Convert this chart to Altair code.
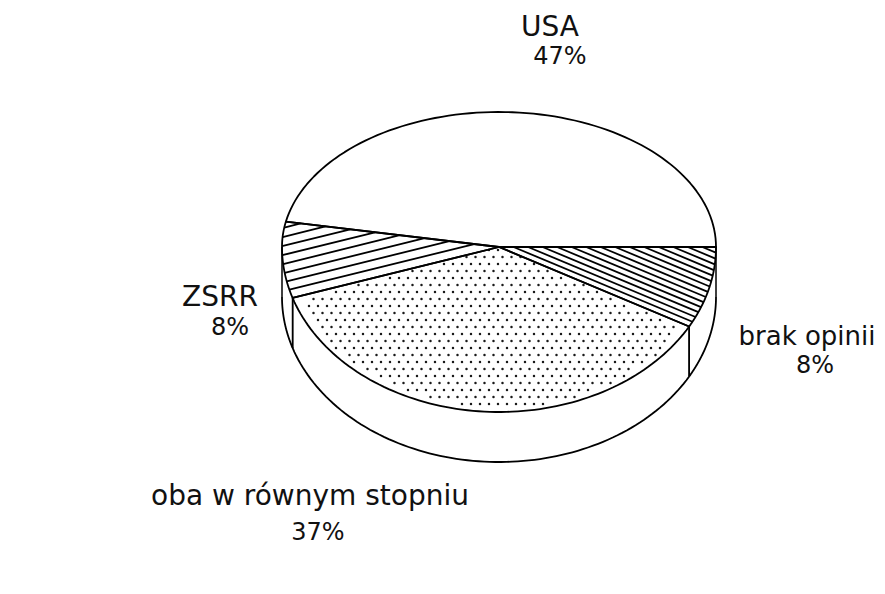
import altair as alt
import pandas as pd

# ---------------- data ----------------
categories = ["USA", "ZSRR", "oba w równym stopniu", "brak opinii"]
values = [47, 8, 37, 8]
percent_labels = [f"{v}%" for v in values]

# ---------------- layout / style (pixels) ----------------
W, H = 869, 578
CX, CY = 491, 239          # pie apex
A, BU, BD, DEPTH = 217, 135, 165, 50   # half-width, upper/lower half-heights, side depth
N = 90                     # arc resolution
HATCH_MAX = 45
NC, NR, DX, DY = 50, 25, 9, 7

styles = pd.DataFrame({
    "cat": categories,
    "fillstyle": ["none", "hatch", "dots", "hatch"],
    "base": ["", "end", "", "start"],
    "spacing": [0, 8.8, 0, 5.6],
})

label_pos = pd.DataFrame({
    "cat": categories,
    "x1": [542, 212, 302, 799], "y1": [28, 298, 497, 337],
    "x2": [552, 222, 310, 807], "y2": [56, 327, 532, 365],
    "fs1": [28, 28, 28, 26],
})

df = pd.DataFrame({"cat": categories, "value": values, "idx": list(range(len(categories)))})
df["steps"] = [list(range(N + 3))] * len(df)
df["hatch"] = [list(range(1, HATCH_MAX + 1))] * len(df)
df["grid"] = [list(range(NC * NR))] * len(df)

XS = alt.Scale(domain=[0, W], nice=False, zero=False)
YS = alt.Scale(domain=[0, H], nice=False, zero=False, reverse=True)
X = alt.X("px:Q", scale=XS, axis=None)
Y = alt.Y("py:Q", scale=YS, axis=None)


def ex(t):
    return f"({A}*cos(({t})*PI/180))"


def eyup(t):
    return f"((sin(({t})*PI/180) >= 0 ? {BU} : {BD})*sin(({t})*PI/180))"


base = (
    alt.Chart(df)
    .transform_lookup(lookup="cat", from_=alt.LookupData(styles, "cat", ["fillstyle", "base", "spacing"]))
    .transform_joinaggregate(total="sum(value)")
    .transform_window(cum="sum(value)", sort=[alt.SortField("idx")], frame=[None, 0])
    .transform_calculate(t0="(datum.cum - datum.value) / datum.total * 360")
    .transform_calculate(t1="datum.cum / datum.total * 360")
)

# top face slice outlines
outline = (
    base.transform_flatten(["steps"])
    .transform_calculate(j=f"min(max(datum.steps - 1, 0), {N})")
    .transform_calculate(tt=f"datum.t0 + (datum.t1 - datum.t0) * datum.j / {N}")
    .transform_calculate(isv=f"datum.steps == 0 || datum.steps == {N + 2}")
    .transform_calculate(px=f"datum.isv ? {CX} : {CX} + {ex('datum.tt')}")
    .transform_calculate(py=f"datum.isv ? {CY} : {CY} - {eyup('datum.tt')}")
    .mark_line(color="black", strokeWidth=1.8, strokeJoin="round")
    .encode(x=X, y=Y, detail="cat:N", order="steps:Q")
)

# side: lower rim
side = (
    base.transform_filter("datum.t1 > 180")
    .transform_flatten(["steps"])
    .transform_filter(f"datum.steps >= 1 && datum.steps <= {N + 1}")
    .transform_calculate(lo="max(datum.t0, 180)")
    .transform_calculate(hi="min(datum.t1, 360)")
    .transform_calculate(tt=f"datum.lo + (datum.hi - datum.lo) * (datum.steps - 1) / {N}")
    .transform_calculate(px=f"{CX} + {A}*cos(datum.tt*PI/180)")
    .transform_calculate(py=f"{CY} - {BD}*sin(datum.tt*PI/180) + {DEPTH}")
    .mark_line(color="black", strokeWidth=1.8, strokeJoin="round")
    .encode(x=X, y=Y, detail="cat:N", order="steps:Q")
)

# side: vertical edges
vert = (
    base.transform_filter("datum.t1 > 180")
    .transform_calculate(lo="max(datum.t0, 180)")
    .transform_calculate(hi="min(datum.t1, 360)")
    .transform_fold(["lo", "hi"], as_=["edge", "ta"])
    .transform_calculate(px=f"{CX} + {A}*cos(datum.ta*PI/180)")
    .transform_calculate(py=f"{CY} - {BD}*sin(datum.ta*PI/180)")
    .transform_calculate(py2=f"datum.py + {DEPTH}")
    .mark_rule(color="black", strokeWidth=1.5)
    .encode(x=X, y=Y, y2="py2:Q")
)

# hatching
h = (
    base.transform_filter("datum.fillstyle == 'hatch'")
    .transform_flatten(["hatch"])
    .transform_calculate(tu="datum.base == 'end' ? datum.t1 : datum.t0")
    .transform_calculate(tv="datum.base == 'end' ? datum.t0 : datum.t1")
    .transform_calculate(pux=ex("datum.tu"))
    .transform_calculate(puy=eyup("datum.tu"))
    .transform_calculate(pvx=ex("datum.tv"))
    .transform_calculate(pvy=eyup("datum.tv"))
    .transform_calculate(lu="sqrt(datum.pux*datum.pux + datum.puy*datum.puy)")
    .transform_calculate(lv="sqrt(datum.pvx*datum.pvx + datum.pvy*datum.pvy)")
    .transform_calculate(ux="datum.pux/datum.lu")
    .transform_calculate(uy="datum.puy/datum.lu")
    .transform_calculate(vx="datum.pvx/datum.lv")
    .transform_calculate(vy="datum.pvy/datum.lv")
    .transform_calculate(cr="abs(datum.ux*datum.vy - datum.uy*datum.vx)")
    .transform_calculate(s="datum.hatch * datum.spacing / datum.cr")
    .transform_filter("datum.s < datum.lv - 2")
    .transform_calculate(ox="datum.s*datum.vx")
    .transform_calculate(oy="datum.s*datum.vy")
)
for nm, b in (("1", BU), ("2", BD)):
    a2, b2 = A * A, b * b
    h = (
        h.transform_calculate(**{f"qa{nm}": f"datum.ux*datum.ux/{a2} + datum.uy*datum.uy/{b2}"})
        .transform_calculate(**{f"qb{nm}": f"2*(datum.ox*datum.ux/{a2} + datum.oy*datum.uy/{b2})"})
        .transform_calculate(**{f"qc{nm}": f"datum.ox*datum.ox/{a2} + datum.oy*datum.oy/{b2} - 1"})
        .transform_calculate(**{f"r{nm}": f"(-datum.qb{nm} + sqrt(datum.qb{nm}*datum.qb{nm} - 4*datum.qa{nm}*datum.qc{nm}))/(2*datum.qa{nm})"})
    )
hatch = (
    h.transform_calculate(r="datum.oy + datum.r1*datum.uy >= 0 ? datum.r1 : datum.r2")
    .transform_calculate(px=f"{CX} + datum.ox")
    .transform_calculate(py=f"{CY} - datum.oy")
    .transform_calculate(px2=f"{CX} + datum.ox + datum.r*datum.ux")
    .transform_calculate(py2=f"{CY} - (datum.oy + datum.r*datum.uy)")
    .mark_rule(color="black", strokeWidth=1.8)
    .encode(x=X, y=Y, x2="px2:Q", y2="py2:Q")
)

# dotted fill
dots = (
    base.transform_filter("datum.fillstyle == 'dots'")
    .transform_flatten(["grid"])
    .transform_calculate(gx=f"datum.grid % {NC}")
    .transform_calculate(gy=f"floor(datum.grid / {NC})")
    .transform_calculate(px=f"{CX - A} + datum.gx*{DX} + (datum.gy % 2)*{DX / 2}")
    .transform_calculate(py=f"{CY + 3} + datum.gy*{DY}")
    .transform_calculate(qx=f"(datum.px - {CX})/{A}")
    .transform_calculate(qyu=f"{CY} - datum.py")
    .transform_calculate(qy=f"datum.qyu >= 0 ? datum.qyu/{BU} : datum.qyu/{BD}")
    .transform_calculate(rr="datum.qx*datum.qx + datum.qy*datum.qy")
    .transform_calculate(tp="(atan2(datum.qy, datum.qx)*180/PI + 360) % 360")
    .transform_filter("datum.rr < 0.95 && datum.tp > datum.t0 + 1.5 && datum.tp < datum.t1 - 1.5")
    .mark_circle(size=6, color="black", opacity=0.9)
    .encode(x=X, y=Y)
)

lab = pd.DataFrame({"cat": categories, "pct": percent_labels}).merge(label_pos, on="cat")
names = alt.Chart(lab).mark_text(
    font="DejaVu Sans", baseline="alphabetic", align="center", color="#111"
).encode(
    x=alt.X("x1:Q", scale=XS, axis=None), y=alt.Y("y1:Q", scale=YS, axis=None), text="cat:N",
    size=alt.Size("fs1:Q", scale=None, legend=None),
)
pcts = alt.Chart(lab).mark_text(
    font="DejaVu Sans", fontSize=24, baseline="alphabetic", align="center", color="#111"
).encode(
    x=alt.X("x2:Q", scale=XS, axis=None), y=alt.Y("y2:Q", scale=YS, axis=None), text="pct:N"
)

chart = (
    alt.layer(dots, hatch, side, vert, outline, names, pcts)
    .properties(width=W, height=H, padding=0, autosize=alt.AutoSizeParams(type="none"))
    .configure_view(stroke=None)
)

chart.save("out.html", embed_options={"renderer": "svg", "actions": False})
